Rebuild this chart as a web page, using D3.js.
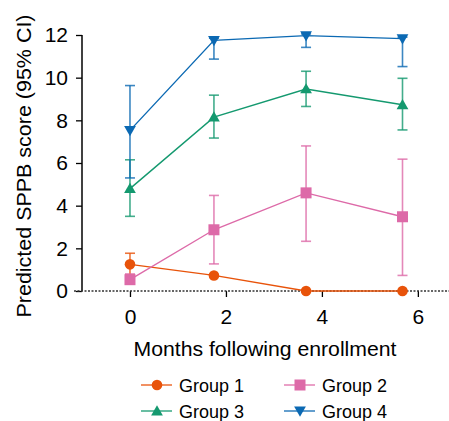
<!DOCTYPE html>
<html><head><meta charset="utf-8">
<script src="https://cdn.jsdelivr.net/npm/d3@7"></script>
<style>body{margin:0;background:#fff}svg{display:block;font-family:"Liberation Sans",Arial,sans-serif}</style>
</head><body><svg id="c" width="449" height="421"></svg>
<script>
const groups = ["Group 1","Group 2","Group 3","Group 4"];
const colors = ["#e8530a","#dd6aa8","#14996f","#0b69b3"];
const months = [0, 1.75, 3.67, 5.68];
const g1 = [1.25, 0.73, 0, 0];
const g1Lo = [0.75, 0.73, 0, 0];
const g1Hi = [1.77, 0.73, 0, 0];
const g2 = [0.53, 2.87, 4.6, 3.48];
const g2Lo = [0.35, 1.27, 2.33, 0.73];
const g2Hi = [0.8, 4.48, 6.8, 6.18];
const g3 = [4.8, 8.15, 9.47, 8.73];
const g3Lo = [3.5, 7.17, 8.65, 7.55];
const g3Hi = [6.15, 9.18, 10.3, 9.97];
const g4 = [7.53, 11.75, 11.97, 11.83];
const g4Lo = [5.3, 10.87, 11.42, 10.52];
const g4Hi = [9.63, 11.85, 12.05, 11.9];
const xTicks = [0,2,4,6];
const yTicks = [0,2,4,6,8,10,12];
const shapes = ["circle","square","triUp","triDown"];

const series = [[g1,g1Lo,g1Hi],[g2,g2Lo,g2Hi],[g3,g3Lo,g3Hi],[g4,g4Lo,g4Hi]];
const svg = d3.select("#c");
const x = d3.scaleLinear().domain([-1, 6.67]).range([82, 450]);
const y = d3.scaleLinear().domain([0, 12]).range([291, 35]);

// y axis
const ya = svg.append("g").attr("transform","translate(82,0)")
  .call(d3.axisLeft(y).tickValues(yTicks).tickSize(6).tickPadding(8));
ya.select(".domain").attr("d", `M0,${y(12)}V${y(0)}`).attr("stroke","#000").attr("stroke-width",1.5);
ya.selectAll(".tick line").attr("stroke","#000").attr("stroke-width",1.3);
ya.selectAll("text").attr("font-size",21).attr("fill","#000").attr("font-family","Liberation Sans, Arial, sans-serif");

// x axis
const xa = svg.append("g").attr("transform",`translate(0,${y(0)})`)
  .call(d3.axisBottom(x).tickValues(xTicks).tickSize(6).tickPadding(12));
xa.select(".domain").remove();
xa.selectAll(".tick line").attr("stroke","#000").attr("stroke-width",1.3);
xa.selectAll("text").attr("font-size",21).attr("fill","#000").attr("font-family","Liberation Sans, Arial, sans-serif");
svg.append("line").attr("x1",74).attr("x2",449).attr("y1",y(0)).attr("y2",y(0))
  .attr("stroke","#333").attr("stroke-width",1.6).attr("stroke-dasharray","2,1.5");

svg.append("text").attr("x",265).attr("y",356).attr("text-anchor","middle")
  .attr("font-size",20).attr("textLength",263).attr("lengthAdjust","spacingAndGlyphs")
  .text("Months following enrollment");
svg.append("text").attr("transform","translate(31,166) rotate(-90)").attr("text-anchor","middle")
  .attr("font-size",21).attr("textLength",303).attr("lengthAdjust","spacingAndGlyphs")
  .text("Predicted SPPB score (95% CI)");

function marker(sel, shape, cx, cy, col){
  if(shape==="circle") sel.append("circle").attr("cx",cx).attr("cy",cy).attr("r",5.3).attr("fill",col);
  else if(shape==="square") sel.append("rect").attr("x",cx-5.5).attr("y",cy-5.5).attr("width",11).attr("height",11).attr("fill",col);
  else {
    const sym = d3.symbol().type(d3.symbolTriangle).size(60)();
    sel.append("path").attr("d",sym).attr("fill",col)
      .attr("transform",`translate(${cx},${cy+(shape==="triDown"?-1:1)}) rotate(${shape==="triDown"?180:0})`);
  }
}

const line = d3.line().x(d=>x(d[0])).y(d=>y(d[1]));
series.forEach((s,i)=>{
  const [v,lo,hi] = s;
  const col = colors[i];
  const g = svg.append("g");
  // error bars
  months.forEach((m,j)=>{
    if(hi[j]-lo[j] < 0.01) return;
    const eg = g.append("g").attr("stroke",col).attr("stroke-opacity",0.8).attr("stroke-width",1.6);
    eg.append("line").attr("x1",x(m)).attr("x2",x(m)).attr("y1",y(lo[j])).attr("y2",y(hi[j]));
    eg.append("line").attr("x1",x(m)-5).attr("x2",x(m)+5).attr("y1",y(lo[j])).attr("y2",y(lo[j]));
    eg.append("line").attr("x1",x(m)-5).attr("x2",x(m)+5).attr("y1",y(hi[j])).attr("y2",y(hi[j]));
  });
  g.append("path").attr("d",line(months.map((m,j)=>[m,v[j]]))).attr("fill","none")
    .attr("stroke",col).attr("stroke-width",1.4);
  months.forEach((m,j)=>marker(g, shapes[i], x(m), y(v[j]), col));
});

// legend
const legPos = [[141,385],[284,385],[141,411],[284,411]];
groups.forEach((name,i)=>{
  const [lx,ly] = legPos[i];
  const lg = svg.append("g");
  lg.append("line").attr("x1",lx).attr("x2",lx+31).attr("y1",ly).attr("y2",ly)
    .attr("stroke",colors[i]).attr("stroke-width",1.6).attr("stroke-opacity",0.8);
  marker(lg, shapes[i], lx+16, ly, colors[i]);
  lg.append("text").attr("x",lx+38).attr("y",ly+6.5).attr("font-size",18).text(name);
});
</script></body></html>
